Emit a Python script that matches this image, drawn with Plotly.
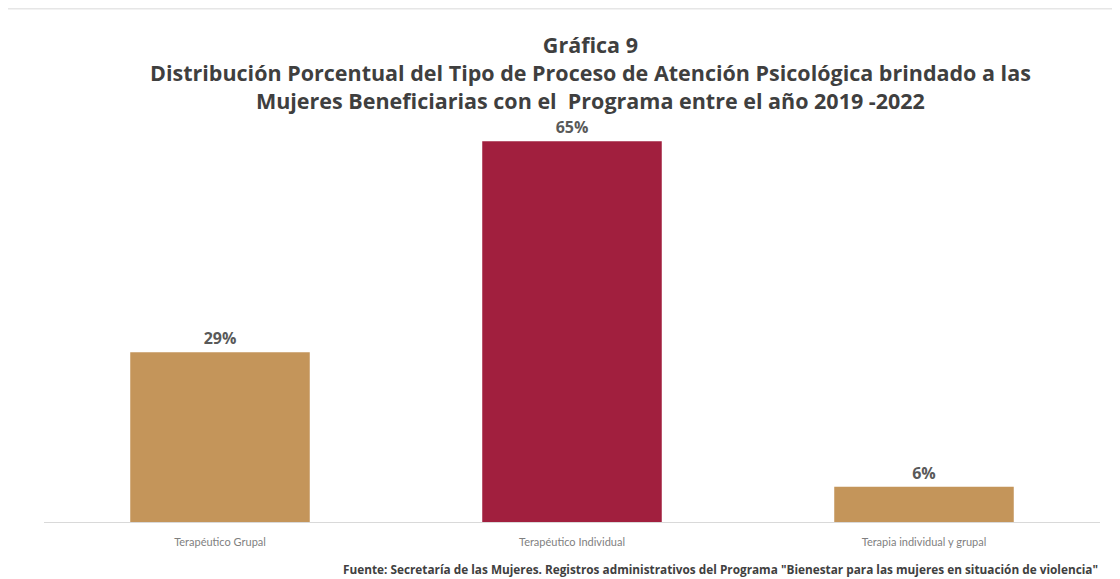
import plotly.graph_objects as go

categories = ["Terapéutico Grupal", "Terapéutico Individual", "Terapia individual y grupal"]
values = [29, 65, 6]
labels = ["29%", "65%", "6%"]
colors = ["#C4955A", "#A11F3E", "#C4955A"]

fig = go.Figure()
fig.add_trace(go.Bar(
    x=categories, y=values,
    marker=dict(color=colors, line=dict(width=0)),
    text=["<b>" + t + "</b>" for t in labels], textposition="outside",
    textfont=dict(family="Open Sans", size=16, color="#595959"),
    cliponaxis=False,
    width=0.51,
))

fig.update_layout(
    width=1120, height=579,
    paper_bgcolor="white", plot_bgcolor="white",
    margin=dict(l=36, r=28, t=104, b=65),
    showlegend=False,
    title=dict(
        text="<b>Gráfica 9<br>Distribución Porcentual del Tipo de Proceso de Atención Psicológica brindado a las<br>Mujeres Beneficiarias con el  Programa entre el año 2019 -2022</b>",
        x=0.52, xanchor="center", yref="container", y=0.922, yanchor="top",
        font=dict(family="Open Sans", size=21.5, color="#3F3F3F"),
    ),
    xaxis=dict(
        showgrid=False, showline=True, linecolor="#D9D9D9", linewidth=1,
        ticks="", ticklabelstandoff=10,
        tickfont=dict(family="Lato", size=11, color="#7F7F7F"),
    ),
    yaxis=dict(range=[0, 70], visible=False),
    shapes=[
        dict(type="line", xref="paper", yref="paper", x0=-0.04, x1=1.03, y0=1.252, y1=1.252,
             line=dict(color="#E6E6E6", width=1.5)),
    ],
    annotations=[dict(
        text="<b>Fuente: Secretaría de las Mujeres. Registros administrativos del Programa \"Bienestar para las mujeres en situación de violencia\"</b>",
        xref="paper", yref="paper", x=1.0, y=-0.09, xanchor="right", yanchor="top",
        showarrow=False,
        font=dict(family="Open Sans", size=11.8, color="#404040"),
    )],
)

fig.write_html("out.html")
